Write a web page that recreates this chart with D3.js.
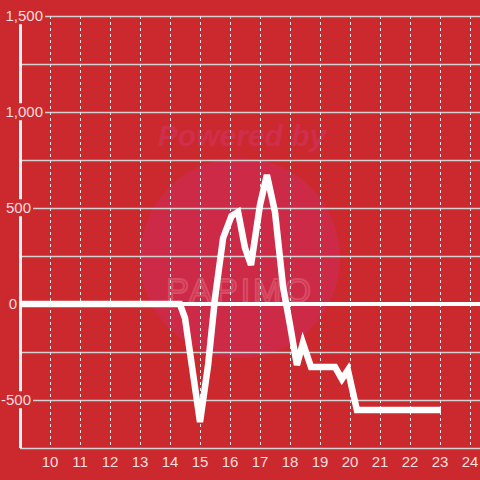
<!DOCTYPE html>
<html>
<head>
<meta charset="utf-8">
<script src="https://cdn.jsdelivr.net/npm/d3@7"></script>
<style>
  html, body { margin: 0; padding: 0; background: #cc292e; }
  svg { display: block; font-family: "Liberation Sans", Arial, sans-serif; }
</style>
</head>
<body>
<div class="chart-box"></div>
<script>
// data
var hours = [9, 14.33, 14.5, 15, 15.27, 15.5, 15.77, 16.05, 16.27, 16.5, 16.7, 17, 17.23, 17.5, 17.77, 18, 18.23, 18.43, 18.7, 19.5, 19.73, 19.93, 20.23, 23.03];
var values = [0, 0, -73, -615, -318, 31, 344, 458, 479, 292, 203, 516, 672, 479, 89, -109, -318, -203, -328, -328, -391, -344, -552, -552];
var xTicks = [10, 11, 12, 13, 14, 15, 16, 17, 18, 19, 20, 21, 22, 23, 24];
var yTicks = [1500, 1000, 500, 0, -500];
var yGrid = [1500, 1250, 1000, 750, 500, 250, -250, -500];

var width = 480, height = 480;
var bg = "#cc292e";

var x = d3.scaleLinear().domain([9, 24.333]).range([20, 480]);
var y = d3.scaleLinear().domain([-750, 1500]).range([448, 16]);

var svg = d3.select(".chart-box").append("svg")
    .attr("width", width)
    .attr("height", height);

svg.append("rect").attr("width", width).attr("height", height).attr("fill", bg);

// watermark
var wm = svg.append("g");
wm.append("circle")
    .attr("cx", 240).attr("cy", 258).attr("r", 100)
    .attr("fill", "#cd2a48");
wm.append("text")
    .attr("x", 242).attr("y", 146)
    .attr("text-anchor", "middle")
    .attr("font-size", 30).attr("font-weight", "bold").attr("font-style", "italic")
    .attr("fill", "#cf2e4c")
    .text("Powered by");
wm.append("text")
    .attr("x", 240).attr("y", 302)
    .attr("text-anchor", "middle")
    .attr("font-size", 34).attr("letter-spacing", 3)
    .attr("fill", "none").attr("stroke", "#d84c64").attr("stroke-width", 2)
    .text("PAPIMO");

// horizontal grid
svg.append("g").selectAll("line")
  .data(yGrid)
  .enter().append("line")
    .attr("x1", 20).attr("x2", width)
    .attr("y1", function(d) { return y(d) + 0.5; })
    .attr("y2", function(d) { return y(d) + 0.5; })
    .attr("stroke", "#d2d2d2")
    .attr("stroke-width", 1.5);

// vertical dashed grid
svg.append("g").selectAll("line")
  .data(xTicks)
  .enter().append("line")
    .attr("x1", function(d) { return x(d) + 0.5; })
    .attr("x2", function(d) { return x(d) + 0.5; })
    .attr("y1", y(1500)).attr("y2", y(-750))
    .attr("stroke", "#e4e4e4")
    .attr("stroke-width", 1)
    .attr("stroke-dasharray", "3,3");

// bottom axis line
svg.append("line")
    .attr("x1", 20).attr("x2", width)
    .attr("y1", y(-750) + 0.5).attr("y2", y(-750) + 0.5)
    .attr("stroke", "#d2d2d2").attr("stroke-width", 1.5);

// zero line
svg.append("line")
    .attr("x1", 18).attr("x2", width)
    .attr("y1", y(0)).attr("y2", y(0))
    .attr("stroke", "#ffffff").attr("stroke-width", 4);

// y axis
svg.append("line")
    .attr("x1", 20.5).attr("x2", 20.5)
    .attr("y1", y(1500)).attr("y2", y(-750))
    .attr("stroke", "#f2f2f2").attr("stroke-width", 3);

// y tick labels with background
var yl = svg.append("g").selectAll("g")
  .data(yTicks)
  .enter().append("g");
yl.append("text")
    .attr("x", function(d) { return d === 0 ? 17 : (Math.abs(d) < 1000 ? 31 : 43); })
    .attr("y", function(d) { return y(d); })
    .attr("dy", "0.35em")
    .attr("text-anchor", "end")
    .attr("font-size", 15)
    .attr("fill", "#f6dede")
    .text(function(d) { return d3.format(",")(d).replace("−", "-"); });
yl.each(function() {
  var t = d3.select(this).select("text");
  var b = t.node().getBBox();
  d3.select(this).insert("rect", "text")
      .attr("x", b.x - 1).attr("y", b.y)
      .attr("width", b.width + 3).attr("height", b.height)
      .attr("fill", bg);
});

// x tick labels
svg.append("g").selectAll("text")
  .data(xTicks)
  .enter().append("text")
    .attr("x", function(d) { return x(d); })
    .attr("y", 467)
    .attr("text-anchor", "middle")
    .attr("font-size", 15)
    .attr("fill", "#f6dede")
    .text(function(d) { return d; });

// data line
var line = d3.line()
    .x(function(d, i) { return x(hours[i]); })
    .y(function(d) { return y(d); });

svg.append("path")
    .datum(values)
    .attr("d", line)
    .attr("fill", "none")
    .attr("stroke", "#ffffff")
    .attr("stroke-width", 6.5)
    .attr("stroke-linejoin", "miter");
</script>
</body>
</html>
